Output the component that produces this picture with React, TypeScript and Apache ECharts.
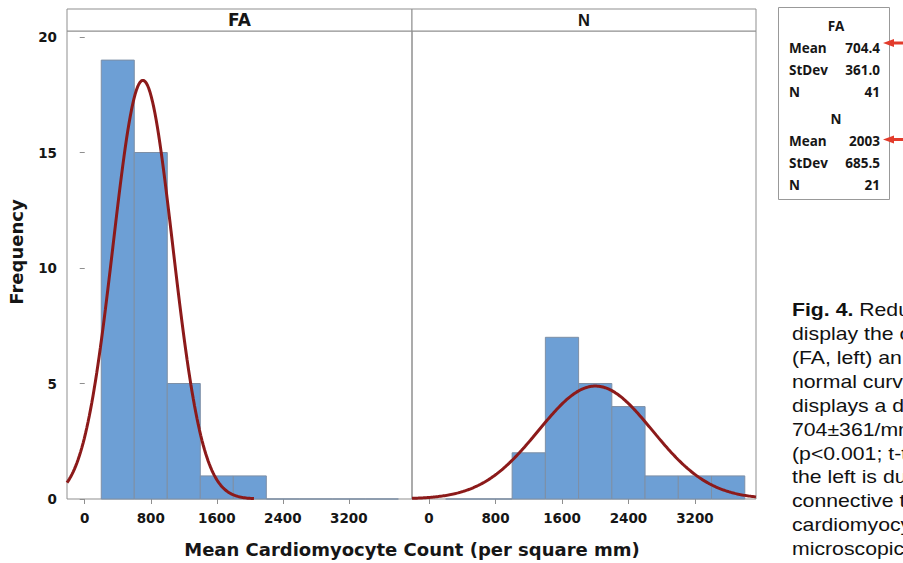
import React, { useEffect, useRef } from "react";
import * as echarts from "echarts";

// ---- data ----
const panelNames = ["FA", "N"];
const binStarts = [200, 600, 1000, 1400, 1800, 2200, 2600, 3000, 3400];
const binWidth = 400;
const faCounts = [19, 15, 5, 1, 1, 0, 0, 0, 0];
const nCounts = [0, 0, 2, 7, 5, 4, 1, 1, 1];
const means = [704.4, 2003];
const stdevs = [361.0, 685.5];
const sampleSizes = [41, 21];
const meanLabels = ["704.4", "2003"];
const stdevLabels = ["361.0", "685.5"];
const xTicks = [0, 800, 1600, 2400, 3200];
const yTicks = [0, 5, 10, 15, 20];
const curveRanges = [
  [-215, 2060],
  [-205, 3935],
];
const xRanges = [
  [-215, 3965],
  [-205, 3935],
];
const captionLines = [
  "display the c",
  "(FA, left) an",
  "normal curv",
  "displays a d",
  "704±361/mm",
  "(p<0.001; t-t",
  "the left is du",
  "connective t",
  "cardiomyocy",
  "microscopic",
];

const countsByPanel = [faCounts, nCounts];

function normalCurve(p: number): number[][] {
  const pts: number[][] = [];
  const [a, b] = curveRanges[p];
  const k = (sampleSizes[p] * binWidth) / (stdevs[p] * Math.sqrt(2 * Math.PI));
  for (let x = a; x <= b; x += 15) {
    const z = (x - means[p]) / stdevs[p];
    pts.push([x, k * Math.exp(-0.5 * z * z)]);
  }
  return pts;
}

const FRAME = "#8f8f8f";
const TXT = "#161616";
const BOLD_DV = "DejaVu Sans";

export default function App() {
  const ref = useRef<HTMLDivElement>(null);
  useEffect(() => {
    if (!ref.current) return;
    const chart = echarts.init(ref.current, undefined, { renderer: "svg" });

    const grids = [
      { left: 67, top: 31, width: 345, height: 468 },
      { left: 412, top: 31, width: 344, height: 468 },
    ].map((g) => ({ ...g, show: true, borderColor: FRAME, borderWidth: 1, backgroundColor: "transparent" }));

    const xAxes = [0, 1].map((i) => ({
      type: "value",
      gridIndex: i,
      min: xRanges[i][0],
      max: xRanges[i][1],
      axisLine: { show: false },
      splitLine: { show: false },
      axisTick: { show: true, length: 5, customValues: xTicks, lineStyle: { color: FRAME } },
      axisLabel: {
        customValues: xTicks,
        formatter: (v: number) => String(v),
        fontFamily: BOLD_DV,
        fontWeight: "bold",
        fontSize: 13.5,
        color: TXT,
        margin: 12,
      },
    }));

    const yAxes = [0, 1].map((i) => ({
      type: "value",
      gridIndex: i,
      min: 0,
      max: 20.26,
      axisLine: { show: false },
      splitLine: { show: false },
      axisTick: { show: i === 0, length: 5, customValues: yTicks, lineStyle: { color: FRAME } },
      axisLabel: {
        show: i === 0,
        customValues: yTicks,
        formatter: (v: number) => String(v),
        fontFamily: BOLD_DV,
        fontWeight: "bold",
        fontSize: 13.5,
        color: TXT,
        margin: 10,
      },
    }));

    const histSeries = [0, 1].map((p) => ({
      type: "custom",
      xAxisIndex: p,
      yAxisIndex: p,
      encode: { x: [0, 1], y: 2 },
      data: binStarts.map((s, i) => [s, s + binWidth, countsByPanel[p][i]]),
      renderItem: (params: any, api: any) => {
        const p0 = api.coord([api.value(0), api.value(2)]);
        const p1 = api.coord([api.value(1), 0]);
        return {
          type: "rect",
          shape: { x: p0[0], y: p0[1], width: p1[0] - p0[0], height: p1[1] - p0[1] },
          style: { fill: "#6d9fd5", stroke: "#7d8fa6", lineWidth: 1 },
        };
      },
      z: 2,
    }));

    const curveSeries = [0, 1].map((p) => ({
      type: "line",
      xAxisIndex: p,
      yAxisIndex: p,
      data: normalCurve(p),
      showSymbol: false,
      symbol: "none",
      lineStyle: { color: "#8c1a1a", width: 3 },
      z: 3,
      silent: true,
    }));

    const graphics: any[] = [];
    // panel header strips
    const headerBoxes = [
      [67, 345],
      [412, 344],
    ];
    headerBoxes.forEach(([x, w], i) => {
      graphics.push({
        type: "rect",
        shape: { x: x, y: 9, width: w, height: 22 },
        style: { fill: "#ffffff", stroke: FRAME, lineWidth: 1 },
      });
      graphics.push({
        type: "text",
        x: x + w / 2,
        y: 19.5,
        style: {
          text: panelNames[i],
          font: i === 0 ? `bold 17px "${BOLD_DV}"` : `bold 16.5px "Liberation Sans"`,
          fill: TXT,
          align: "center",
          verticalAlign: "middle",
        },
      });
    });

    // axis titles
    graphics.push({
      type: "text",
      x: 16,
      y: 252,
      rotation: Math.PI / 2,
      style: {
        text: "Frequency",
        font: `bold 18px "${BOLD_DV}"`,
        fill: TXT,
        align: "center",
        verticalAlign: "middle",
      },
    });
    graphics.push({
      type: "text",
      x: 412,
      y: 549,
      style: {
        text: "Mean Cardiomyocyte Count (per square mm)",
        font: `bold 18px "${BOLD_DV}"`,
        fill: TXT,
        align: "center",
        verticalAlign: "middle",
      },
    });

    // stats box
    graphics.push({
      type: "rect",
      shape: { x: 778.5, y: 7.5, width: 111, height: 192 },
      style: { fill: "#fff", stroke: "#999", lineWidth: 1 },
    });
    const lf = `bold 13.5px "Open Sans"`;
    const blockTops = [26, 119.3];
    [0, 1].forEach((p) => {
      const y0 = blockTops[p];
      graphics.push({
        type: "text",
        x: 836,
        y: y0,
        style: { text: panelNames[p], font: lf, fill: TXT, align: "center", verticalAlign: "middle" },
      });
      const rows = [
        ["Mean", meanLabels[p]],
        ["StDev", stdevLabels[p]],
        ["N", String(sampleSizes[p])],
      ];
      rows.forEach(([k, v], r) => {
        const y = y0 + 22 + r * 21.8;
        graphics.push({ type: "text", x: 789, y, style: { text: k, font: lf, fill: TXT, align: "left", verticalAlign: "middle" } });
        graphics.push({ type: "text", x: 880, y, style: { text: v, font: lf, fill: TXT, align: "right", verticalAlign: "middle" } });
      });
    });
    // red arrows
    [43, 139.5].forEach((y) => {
      graphics.push({
        type: "line",
        shape: { x1: 891, y1: y, x2: 904, y2: y },
        style: { stroke: "#e23b2b", lineWidth: 3 },
      });
      graphics.push({
        type: "polygon",
        shape: { points: [[883, y], [894, y - 4], [894, y + 4]] },
        style: { fill: "#e23b2b" },
      });
    });

    // caption (clipped by page edge, as in the reference)
    const capFont = `17.7px "Liberation Sans"`;
    graphics.push({
      type: "text",
      x: 792,
      y: 309.8,
      scaleX: 1.2,
      style: {
        text: "{b|Fig. 4.} Redu",
        font: capFont,
        fill: "#111",
        align: "left",
        verticalAlign: "middle",
        rich: { b: { fontWeight: "bold", fontFamily: "Liberation Sans", fontSize: 17.7, fill: "#111" } },
      },
    });
    captionLines.forEach((t, i) => {
      graphics.push({
        type: "text",
        x: 792,
        y: 309.8 + (i + 1) * 23.9,
        scaleX: 1.2,
        style: { text: t, font: capFont, fill: "#111", align: "left", verticalAlign: "middle" },
      });
    });

    chart.setOption({
      animation: false,
      backgroundColor: "#ffffff",
      grid: grids,
      xAxis: xAxes,
      yAxis: yAxes,
      series: [...histSeries, ...curveSeries],
      graphic: graphics,
    });
    return () => chart.dispose();
  }, []);

  return (
    <div
      ref={ref}
      style={{ position: "fixed", left: 0, top: 0, width: 903, height: 563, overflow: "hidden", background: "#fff" }}
    />
  );
}
